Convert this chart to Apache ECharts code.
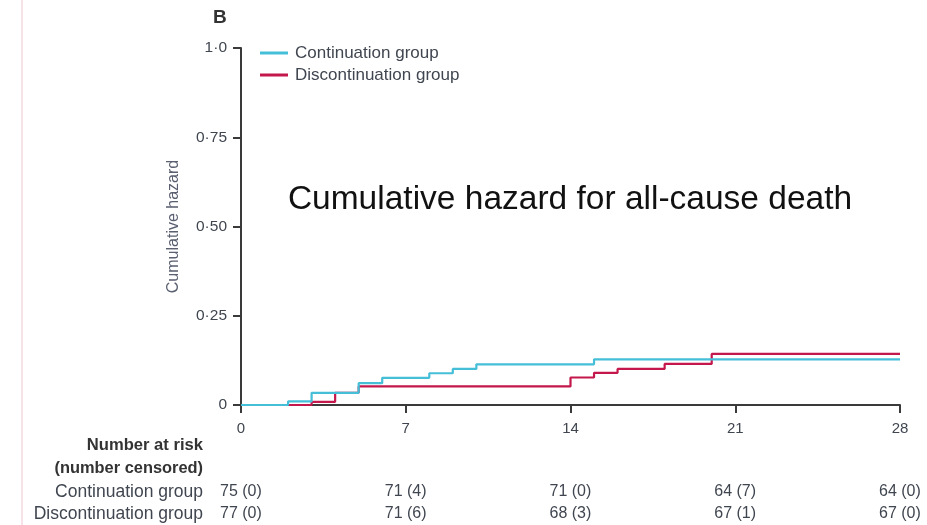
<!DOCTYPE html>
<html>
<head>
<meta charset="utf-8">
<script src="https://cdn.jsdelivr.net/npm/echarts@6/dist/echarts.min.js"></script>
<style>
html,body{margin:0;padding:0;background:#fff;}
#chart{width:927px;height:525px;}
</style>
</head>
<body>
<div id="chart"></div>
<script>
// ---- data ----
var seriesNames = ['Continuation group', 'Discontinuation group'];
var xTicks = [0, 7, 14, 21, 28];
var yTicks = [0, 0.25, 0.5, 0.75, 1.0];
var yTickLabels = ['0', '0·25', '0·50', '0·75', '1·0'];
// cumulative hazard step points [day, hazard]
var continuationSteps = [[0,0],[2,0.010],[3,0.034],[5,0.061],[6,0.076],[8,0.089],[9,0.101],[10,0.114],[15,0.128],[28,0.128]];
var discontinuationSteps = [[0,0],[3,0.009],[4,0.034],[5,0.052],[14,0.077],[15,0.090],[16,0.101],[18,0.115],[20,0.143],[28,0.143]];
var riskDays = [0, 7, 14, 21, 28];
var riskContinuation = ['75 (0)', '71 (4)', '71 (0)', '64 (7)', '64 (0)'];
var riskDiscontinuation = ['77 (0)', '71 (6)', '68 (3)', '67 (1)', '67 (0)'];
var riskHeader = ['Number at risk', '(number censored)'];
var overlayTitle = 'Cumulative hazard for all-cause death';
var panelLabel = 'B';
var yAxisName = 'Cumulative hazard';

var FONT = "'Liberation Sans', Arial, sans-serif";
var BLUE = '#45bed8';
var RED = '#c4174b';
var AXIS = '#3a3a3a';
var TXT = '#404650';

var chart = echarts.init(document.getElementById('chart'), null, {renderer: 'canvas'});

var option = {
  animation: false,
  backgroundColor: '#fff',
  grid: {left: 241, right: 27, top: 48, bottom: 120, containLabel: false},
  legend: {
    orient: 'vertical',
    left: 255,
    top: 38,
    itemWidth: 28,
    itemHeight: 3,
    itemGap: 2,
    icon: 'rect',
    textStyle: {fontFamily: FONT, fontSize: 17, color: TXT, lineHeight: 20, padding: [0,0,0,2]},
    data: seriesNames
  },
  xAxis: {
    type: 'value',
    min: 0, max: 28, interval: 7,
    axisLine: {show: true, onZero: false, lineStyle: {color: AXIS, width: 2}},
    axisTick: {show: true, length: 8, lineStyle: {color: AXIS, width: 2}},
    axisLabel: {margin: 16, fontFamily: FONT, fontSize: 15, color: TXT,
      formatter: function (v) { return xTicks.indexOf(v) >= 0 ? String(v) : ''; }},
    splitLine: {show: false}
  },
  yAxis: {
    type: 'value',
    min: 0, max: 1, interval: 0.25,
    name: yAxisName,
    nameLocation: 'middle',
    nameGap: 59,
    nameTextStyle: {fontFamily: FONT, fontSize: 16, color: '#5a6070'},
    axisLine: {show: true, lineStyle: {color: AXIS, width: 2}},
    axisTick: {show: true, length: 8, lineStyle: {color: AXIS, width: 2}},
    axisLabel: {margin: 14, fontFamily: FONT, fontSize: 15.5, color: TXT,
      formatter: function (v) {
        var i = yTicks.indexOf(v);
        return i >= 0 ? yTickLabels[i] : '';
      }},
    splitLine: {show: false}
  },
  series: [
    {
      name: seriesNames[0], type: 'line', step: 'end', data: continuationSteps,
      showSymbol: false, symbol: 'none', color: BLUE,
      lineStyle: {color: BLUE, width: 2.2}, z: 3
    },
    {
      name: seriesNames[1], type: 'line', step: 'end', data: discontinuationSteps,
      showSymbol: false, symbol: 'none', color: RED,
      lineStyle: {color: RED, width: 2.2}, z: 2
    }
  ]
};

chart.setOption(option);

function px(day) { return chart.convertToPixel({xAxisIndex: 0}, day); }

var g = [];
// faint page border line on left
g.push({type: 'line', shape: {x1: 22, y1: 0, x2: 22, y2: 525}, style: {stroke: '#f4d9df', lineWidth: 1.5}, silent: true});
// panel label
g.push({type: 'text', x: 213, y: 27, style: {text: panelLabel, font: 'bold 19px ' + FONT, fill: '#333', textVerticalAlign: 'bottom'}});
// overlay title
g.push({type: 'text', x: 570, y: 200, style: {text: overlayTitle, font: '33.5px ' + FONT, fill: '#111', textAlign: 'center', textVerticalAlign: 'middle'}});
// risk table header
var rowY = [445, 468, 492, 514];
g.push({type: 'text', x: 203, y: rowY[0], style: {text: riskHeader[0], font: 'bold 16.6px ' + FONT, fill: '#333', textAlign: 'right', textVerticalAlign: 'middle'}});
g.push({type: 'text', x: 203, y: rowY[1], style: {text: riskHeader[1], font: 'bold 16.4px ' + FONT, fill: '#333', textAlign: 'right', textVerticalAlign: 'middle'}});
g.push({type: 'text', x: 203, y: rowY[2], style: {text: seriesNames[0], font: '17.5px ' + FONT, fill: TXT, textAlign: 'right', textVerticalAlign: 'middle'}});
g.push({type: 'text', x: 203, y: rowY[3], style: {text: seriesNames[1], font: '17.5px ' + FONT, fill: TXT, textAlign: 'right', textVerticalAlign: 'middle'}});
for (var i = 0; i < riskDays.length; i++) {
  var x = px(riskDays[i]) - 21;
  g.push({type: 'text', x: x, y: rowY[2], style: {text: riskContinuation[i], font: '16px ' + FONT, fill: TXT, textAlign: 'left', textVerticalAlign: 'middle'}});
  g.push({type: 'text', x: x, y: rowY[3], style: {text: riskDiscontinuation[i], font: '16px ' + FONT, fill: TXT, textAlign: 'left', textVerticalAlign: 'middle'}});
}
chart.setOption({graphic: g});
</script>
</body>
</html>
